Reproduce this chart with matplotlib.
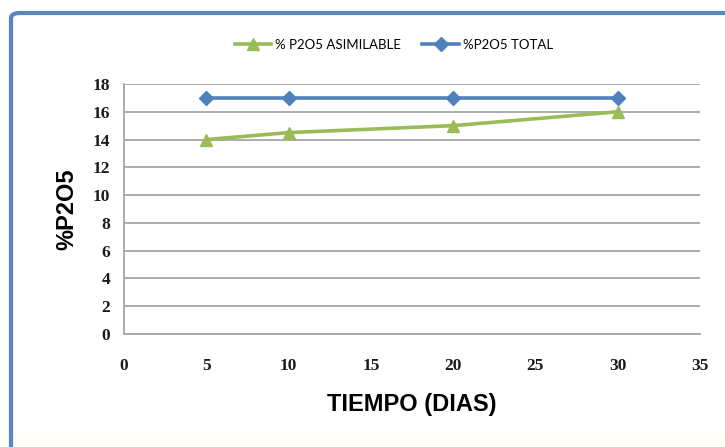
import matplotlib
matplotlib.use("Agg")
import matplotlib.pyplot as plt
from matplotlib.patches import FancyBboxPatch, Rectangle

# Data
dias = [5, 10, 20, 30]
p2o5_asimilable = [14, 14.5, 15, 16]
p2o5_total = [17, 17, 17, 17]

x_ticks = [0, 5, 10, 15, 20, 25, 30, 35]
y_ticks = [0, 2, 4, 6, 8, 10, 12, 14, 16, 18]

W, H = 725, 447
fig = plt.figure(figsize=(W / 100, H / 100), dpi=100)
fig.patch.set_facecolor("white")

# faint cream band at bottom
fig.patches.append(Rectangle((0, 0), 1, 15 / H, transform=fig.transFigure,
                             facecolor="#fefef6", edgecolor="none", zorder=0))

# blue frame (only top and left visible in the original)
frame = FancyBboxPatch((11 / W, -0.05), 1.2, 1 - 13 / H + 0.05,
                       boxstyle="round,pad=0,rounding_size=0.012",
                       transform=fig.transFigure, facecolor="none",
                       edgecolor="#5b84c4", linewidth=3.0, zorder=1)
fig.patches.append(frame)

ax = fig.add_axes([124 / W, 1 - 334 / H, (700 - 124) / W, (334 - 84) / H])
ax.set_facecolor("white")

green = "#9bbb59"
blue = "#4f81bd"

ax.plot(dias, p2o5_asimilable, color=green, linewidth=2.6, marker="^",
        markersize=9, markerfacecolor=green, markeredgecolor=green,
        label="% P2O5 ASIMILABLE", zorder=3, clip_on=False)
ax.plot(dias, p2o5_total, color=blue, linewidth=2.6, marker="D",
        markersize=7, markerfacecolor=blue, markeredgecolor=blue,
        label="%P2O5 TOTAL", zorder=4, clip_on=False)

ax.set_xlim(0, 35)
ax.set_ylim(0, 18)
ax.set_xticks(x_ticks)
ax.set_yticks(y_ticks)

ax.grid(axis="y", color="#a6a6a6", linewidth=1.3)
ax.set_axisbelow(True)
for s in ["top", "right"]:
    ax.spines[s].set_visible(False)
for s in ["left", "bottom"]:
    ax.spines[s].set_color("#a6a6a6")
    ax.spines[s].set_linewidth(1.3)

ax.tick_params(length=0)
ax.tick_params(axis="x", pad=17)
ax.tick_params(axis="y", pad=10)
for lab in ax.get_xticklabels() + ax.get_yticklabels():
    lab.set_fontfamily("Liberation Serif")
    lab.set_fontweight("bold")
    lab.set_fontsize(12.5)
    lab.set_color("#1a1a1a")

ax.set_xlabel("TIEMPO (DIAS)", fontfamily="Liberation Sans", fontweight="bold",
              fontsize=17, labelpad=14)
ax.set_ylabel("%P2O5", fontfamily="Liberation Sans", fontweight="bold",
              fontsize=17, labelpad=10)

leg = fig.legend(loc="center", bbox_to_anchor=(394 / W, 1 - 45 / H), ncol=2,
                 frameon=False, prop={"family": "Lato", "size": 9.5},
                 handlelength=2.8, columnspacing=1.6, handletextpad=0.3)

fig.savefig("out.png", dpi=100)
